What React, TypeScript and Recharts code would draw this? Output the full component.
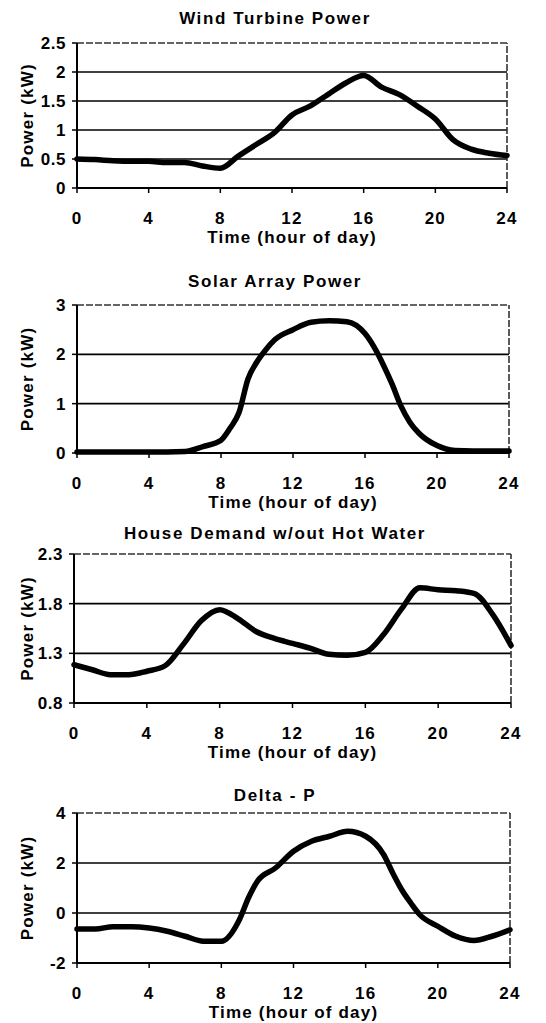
import { LineChart, Line, XAxis, YAxis, ReferenceLine } from 'recharts';

const hourTicks = [0, 4, 8, 12, 16, 20, 24];

const windHours = [0, 1, 2, 3, 4, 5, 6, 7, 8, 9, 10, 11, 12, 13, 14, 15, 16, 17, 18, 19, 20, 21, 22, 23, 24];
const windKw = [0.5, 0.49, 0.47, 0.46, 0.46, 0.44, 0.44, 0.38, 0.34, 0.55, 0.75, 0.95, 1.26, 1.41, 1.61, 1.81, 1.94, 1.74, 1.61, 1.41, 1.19, 0.83, 0.67, 0.6, 0.56];
const windTicks = [0, 0.5, 1, 1.5, 2, 2.5];

const solarHours = [0, 1, 2, 3, 4, 5, 6, 7, 8, 8.5, 9, 9.5, 10, 10.5, 11, 12, 13, 14, 15, 16, 16.5, 17, 17.5, 18, 18.5, 19, 20, 21, 22, 23, 24];
const solarKw = [0.02, 0.02, 0.02, 0.02, 0.02, 0.02, 0.03, 0.13, 0.26, 0.5, 0.82, 1.5, 1.85, 2.1, 2.3, 2.5, 2.65, 2.68, 2.66, 2.42, 2.15, 1.8, 1.4, 0.95, 0.62, 0.4, 0.15, 0.05, 0.04, 0.04, 0.04];
const solarTicks = [0, 1, 2, 3];

const houseHours = [0, 1, 2, 3, 4, 5, 6, 7, 8, 9, 10, 11, 12, 13, 14, 15, 16, 17, 18, 19, 20, 21, 22, 23, 24];
const houseKw = [1.185, 1.135, 1.085, 1.085, 1.12, 1.175, 1.39, 1.63, 1.74, 1.65, 1.52, 1.45, 1.4, 1.35, 1.29, 1.28, 1.31, 1.49, 1.75, 1.96, 1.94, 1.93, 1.9, 1.69, 1.38];
const houseTicks = [0.8, 1.3, 1.8, 2.3];

const deltaHours = [0, 1, 2, 3, 4, 5, 6, 7, 8, 9, 9.5, 10, 11, 12, 13, 14, 15, 16, 17, 17.5, 18, 18.5, 19, 20, 21, 22, 23, 24];
const deltaKw = [-0.64, -0.64, -0.55, -0.55, -0.6, -0.73, -0.93, -1.13, -1.13, -0.27, 0.6, 1.27, 1.8, 2.47, 2.87, 3.07, 3.27, 3.07, 2.33, 1.6, 0.93, 0.4, -0.07, -0.53, -0.93, -1.1, -0.93, -0.67];
const deltaTicks = [-2, 0, 2, 4];

const font = '"Liberation Sans", Arial, sans-serif';

interface PanelProps {
  title: string;
  titleTop: number;
  top: number;
  plotHeight: number;
  left: number;
  right: number;
  hours: number[];
  values: number[];
  yTicks: number[];
}

function Panel({ title, titleTop, top, plotHeight, left, right, hours, values, yTicks }: PanelProps) {
  const data = hours.map((h, i) => ({ h, v: values[i] }));
  const yMin = yTicks[0];
  const yMax = yTicks[yTicks.length - 1];
  const inner = yTicks.slice(1, -1);
  return (
    <>
      <div
        style={{
          position: 'absolute',
          top: titleTop,
          left: 0,
          width: 550,
          textAlign: 'center',
          fontFamily: font,
          fontWeight: 'bold',
          fontSize: 17,
          lineHeight: '17px',
          letterSpacing: 1.6,
        }}
      >
        {title}
      </div>
      <div style={{ position: 'absolute', top: top - 43, left: 0 }}>
        <LineChart
          width={546}
          height={43 + plotHeight + 62}
          data={data}
          margin={{ top: 43, right: 546 - right, left: 0, bottom: 2 }}
        >
          <XAxis
            dataKey="h"
            type="number"
            domain={[0, 24]}
            ticks={hourTicks}
            height={60}
            axisLine={{ stroke: '#000', strokeWidth: 2 }}
            tickLine={{ stroke: '#000', strokeWidth: 1.5 }}
            tickSize={5}
            tickMargin={19}
            tick={{ fill: '#000', fontSize: 17, fontWeight: 'bold', fontFamily: font, letterSpacing: 1.2 }}
            label={{
              value: 'Time (hour of day)',
              position: 'insideBottom',
              offset: 5,
              style: { fill: '#000', fontSize: 17, fontWeight: 'bold', fontFamily: font, letterSpacing: 1.2 },
            }}
          />
          <YAxis
            type="number"
            domain={[yMin, yMax]}
            ticks={yTicks}
            width={left}
            axisLine={{ stroke: '#000', strokeWidth: 2 }}
            tickLine={{ stroke: '#000', strokeWidth: 1.5 }}
            tickSize={5}
            tickMargin={6}
            tick={{ fill: '#000', fontSize: 17, fontWeight: 'bold', fontFamily: font, letterSpacing: 0.5 }}
            label={{
              value: 'Power (kW)',
              angle: -90,
              position: 'insideLeft',
              offset: 27,
              style: { textAnchor: 'middle', fill: '#000', fontSize: 17, fontWeight: 'bold', fontFamily: font, letterSpacing: 1.2 },
            }}
          />
          {inner.map((t) => (
            <ReferenceLine key={t} y={t} stroke="#000" strokeWidth={1.6} />
          ))}
          <ReferenceLine y={yMax} stroke="#333" strokeWidth={1.6} strokeDasharray="7 2" />
          <ReferenceLine x={24} stroke="#333" strokeWidth={1.6} strokeDasharray="7 2" />
          <Line
            type="monotone"
            dataKey="v"
            stroke="#000"
            strokeWidth={5.5}
            strokeLinecap="round"
            strokeLinejoin="round"
            dot={false}
            isAnimationActive={false}
          />
        </LineChart>
      </div>
    </>
  );
}

export default function App() {
  return (
    <div style={{ position: 'absolute', top: 0, left: 0, width: 546, height: 1023, background: '#fff', overflow: 'hidden' }}>
      <Panel title="Wind Turbine Power" titleTop={10} top={43} plotHeight={145} left={77} right={507} hours={windHours} values={windKw} yTicks={windTicks} />
      <Panel title="Solar Array Power" titleTop={273} top={305} plotHeight={148} left={77} right={509} hours={solarHours} values={solarKw} yTicks={solarTicks} />
      <Panel title="House Demand w/out Hot Water" titleTop={525} top={554} plotHeight={149} left={74} right={511} hours={houseHours} values={houseKw} yTicks={houseTicks} />
      <Panel title="Delta - P" titleTop={787} top={813} plotHeight={150} left={77} right={510} hours={deltaHours} values={deltaKw} yTicks={deltaTicks} />
    </div>
  );
}
